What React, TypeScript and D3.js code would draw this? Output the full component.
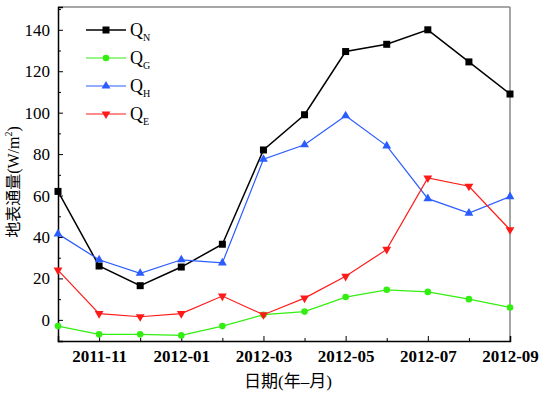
import * as d3 from 'd3';
import { useEffect, useRef } from 'react';

const months = ['2011-10', '2011-11', '2011-12', '2012-01', '2012-02', '2012-03', '2012-04', '2012-05', '2012-06', '2012-07', '2012-08', '2012-09'];
const qN = [62, 26, 16.5, 25.5, 36.5, 82, 99, 129.5, 133, 140, 124.5, 109];
const qG = [-3, -7, -7, -7.5, -3, 2.5, 4, 11, 14.5, 13.5, 10, 6];
const qH = [41.5, 29, 22.5, 29, 27.5, 77.5, 84.5, 98.5, 84, 58.5, 51.5, 59.5];
const qE = [24, 3, 1.5, 3, 11.5, 2.5, 10.5, 21, 34, 68.5, 64.5, 43.5];
const yTicks = [0, 20, 40, 60, 80, 100, 120, 140];
const yMinorTicks = [10, 30, 50, 70, 90, 110, 130, 150];

const series = [
    { name: 'N', values: qN, color: '#000000', marker: 'square' },
    { name: 'G', values: qG, color: '#33ee11', marker: 'circle' },
    { name: 'H', values: qH, color: '#2b5cff', marker: 'up' },
    { name: 'E', values: qE, color: '#ff1a1a', marker: 'down' },
];

const FONT = "'Liberation Serif', 'DejaVu Serif', serif";
const CJK = "'Liberation Serif', 'Noto Sans CJK SC', serif";

const App = () => {
    const ref = useRef<SVGSVGElement>(null);

    useEffect(() => {
        const svg = d3.select(ref.current);
        svg.selectAll('*').remove();

        const margin = { top: 7, right: 34, bottom: 55, left: 58 };
        const width = 544 - margin.left - margin.right;
        const height = 396 - margin.top - margin.bottom;

        const y = d3.scaleLinear().domain([-10.2, 151]).range([height, 0]);
        // months are evenly spaced
        const xi = d3.scalePoint<number>().domain(d3.range(months.length)).range([0, width]);

        const g = svg.append('g').attr('transform', `translate(${margin.left},${margin.top})`);

        // frame: gray top/right
        g.append('line').attr('x1', 0).attr('x2', width).attr('y1', 0).attr('y2', 0)
            .attr('stroke', '#888').attr('stroke-width', 1.5);
        g.append('line').attr('x1', width).attr('x2', width).attr('y1', 0).attr('y2', height)
            .attr('stroke', '#888').attr('stroke-width', 1.5);

        // y axis
        const yAxis = g.append('g')
            .call(d3.axisLeft(y).tickValues(yTicks).tickSize(-5).tickPadding(8));
        yAxis.attr('font-family', null).attr('font-size', null);
        yAxis.select('.domain').attr('stroke', '#000').attr('stroke-width', 1.5);
        yAxis.selectAll('text').attr('font-family', FONT).attr('font-size', 17).attr('fill', '#000');
        const minor = g.append('g')
            .call(d3.axisLeft(y).tickValues(yMinorTicks).tickSize(-3).tickFormat(() => ''));
        minor.select('.domain').remove();

        // x axis
        const xAxis = g.append('g')
            .attr('transform', `translate(0,${height})`)
            .call(d3.axisBottom(xi).tickValues(d3.range(1, 12, 2)).tickSize(-5).tickPadding(9)
                .tickFormat(i => months[i as number]));
        xAxis.attr('font-family', null).attr('font-size', null);
        xAxis.select('.domain').attr('stroke', '#000').attr('stroke-width', 1.5);
        xAxis.selectAll('text').attr('font-family', FONT).attr('font-size', 17)
            .attr('font-weight', 'bold').attr('fill', '#000');
        const xMinor = g.append('g')
            .attr('transform', `translate(0,${height})`)
            .call(d3.axisBottom(xi).tickValues(d3.range(2, 11, 2)).tickSize(-3).tickFormat(() => ''));
        xMinor.select('.domain').remove();

        const line = d3.line<number>().x((_, i) => xi(i)!).y(d => y(d));

        const drawMarker = (sel: any, type: string, color: string, cx: number, cy: number) => {
            if (type === 'square') {
                sel.append('rect').attr('x', cx - 3.5).attr('y', cy - 3.5).attr('width', 7).attr('height', 7).attr('fill', color);
            } else if (type === 'circle') {
                sel.append('circle').attr('cx', cx).attr('cy', cy).attr('r', 3.3).attr('fill', color);
            } else {
                const sym = d3.symbol().type(d3.symbolTriangle).size(34)();
                sel.append('path').attr('d', sym)
                    .attr('transform', `translate(${cx},${cy}) ${type === 'down' ? 'rotate(180)' : ''}`)
                    .attr('fill', color);
            }
        };

        const plot = g.append('g');
        series.forEach(s => {
            plot.append('path').datum(s.values)
                .attr('fill', 'none').attr('stroke', s.color).attr('stroke-width', s.name === 'N' ? 1.5 : 1.2)
                .attr('d', line);
            const mg = plot.append('g');
            s.values.forEach((v, i) => drawMarker(mg, s.marker, s.color, xi(i)!, y(v)));
        });

        // legend
        const legend = g.append('g').attr('transform', 'translate(28,23)');
        series.forEach((s, k) => {
            const ly = k * 28;
            const row = legend.append('g');
            row.append('line').attr('x1', 0).attr('x2', 40).attr('y1', ly).attr('y2', ly)
                .attr('stroke', s.color).attr('stroke-width', s.name === 'N' ? 1.5 : 1.2);
            drawMarker(row, s.marker, s.color, 20, ly);
            const t = row.append('text').attr('x', 44).attr('y', ly + 6)
                .attr('font-family', FONT).attr('font-size', 18).attr('fill', '#000');
            t.append('tspan').text('Q');
            t.append('tspan').attr('dy', 5).attr('font-size', 10).text(s.name);
        });

        // axis titles
        svg.append('text')
            .attr('x', 288).attr('y', 387)
            .attr('text-anchor', 'middle')
            .attr('font-family', CJK).attr('font-size', 17)
            .text('日期(年–月)');

        const yt = svg.append('text')
            .attr('transform', 'translate(19,182) rotate(-90)')
            .attr('text-anchor', 'middle')
            .attr('font-family', CJK).attr('font-size', 16);
        yt.append('tspan').text('地表通量(W/m');
        yt.append('tspan').attr('dy', -7).attr('font-size', 10).text('2');
        yt.append('tspan').attr('dy', 7).text(')');
    }, []);

    return <svg ref={ref} width={544} height={396} style={{ display: 'block', position: 'absolute', left: 0, top: 0, background: '#fff' }} />;
};

export default App;
